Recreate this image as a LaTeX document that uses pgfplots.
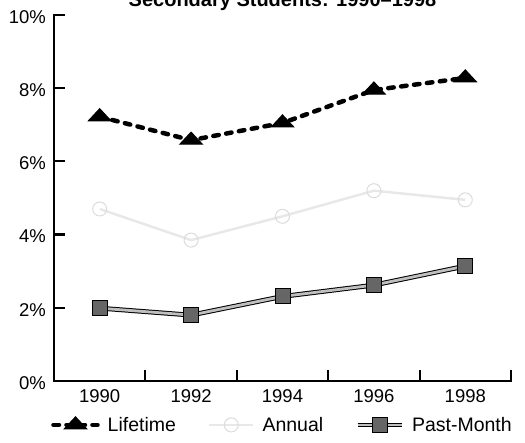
\documentclass[border=0pt]{standalone}
\usepackage{pgfplots}
\pgfplotsset{compat=1.18}
\usepackage{fontspec}
\setmainfont{Liberation Sans}
\begin{document}
\begin{tikzpicture}
\begin{axis}[
  scale only axis,
  width=457pt, height=366pt,
  xmin=1989, xmax=1999,
  ymin=0, ymax=10,
  axis x line*=bottom, axis y line*=left,
  axis line style={line width=2.4pt, line cap=rect},
  tick align=inside,
  xtick={1991,1993,1995,1997,1999},
  xticklabels={},
  extra x ticks={1990,1992,1994,1996,1998},
  extra x tick labels={1990,1992,1994,1996,1998},
  extra x tick style={major tick length=0pt},
  xticklabel style={font=\fontsize{18.5}{20}\selectfont, inner sep=0pt},
  x tick label style={yshift=-8pt},
  ytick={0,2,4,6,8,10},
  yticklabels={0\%,2\%,4\%,6\%,8\%,10\%},
  yticklabel style={font=\fontsize{18.5}{20}\selectfont, inner sep=0pt, xshift=-8pt, yshift=-2pt},
  major tick length=11pt,
  tick style={line width=2.2pt, black},
  /pgf/number format/assume math mode=true,
  clip=false,
  legend columns=3,
  legend style={draw=none, fill=none, at={(0.5,-0.12)}, anchor=center,
    font=\fontsize{19.5}{21}\selectfont,
    /tikz/every odd column/.append style={column sep=6pt},
    /tikz/every even column/.append style={column sep=30pt}},
  legend image code/.code={\draw[mark repeat=2,mark phase=2,#1] plot coordinates {(0pt,0pt) (22pt,0pt) (44pt,0pt)};},
]
\addplot[black, line width=4.5pt, dash pattern=on 5.5pt off 7.5pt, line cap=round,
  mark=triangle*, mark size=13pt, mark options={solid, yscale=0.62, fill=black, line width=1pt}]
  coordinates {(1990,7.22) (1992,6.58) (1994,7.05) (1996,7.95) (1998,8.28)};
\addlegendentry{Lifetime}
\addplot[black!9, line width=2.5pt,
  mark=o, mark size=7pt, mark options={solid, black!14, line width=1pt}]
  coordinates {(1990,4.7) (1992,3.85) (1994,4.5) (1996,5.2) (1998,4.95)};
\addlegendentry{Annual}
\addplot[black, line width=1pt, double=black!25, double distance=2.8pt,
  mark=square*, mark size=7.5pt, mark options={solid, fill=black!60, draw=black}]
  coordinates {(1990,1.99) (1992,1.80) (1994,2.31) (1996,2.62) (1998,3.14)};
\addlegendentry{Past-Month}
\node[anchor=base, font=\bfseries\fontsize{20}{22}\selectfont] at (rel axis cs:0.5,1) [yshift=8pt] {Secondary Students: 1990--1998};
\end{axis}
\pgfresetboundingbox
\path[use as bounding box] (current axis.south west) ++(-54pt,-61pt) rectangle ++(525pt,442pt);
\end{tikzpicture}
\end{document}
